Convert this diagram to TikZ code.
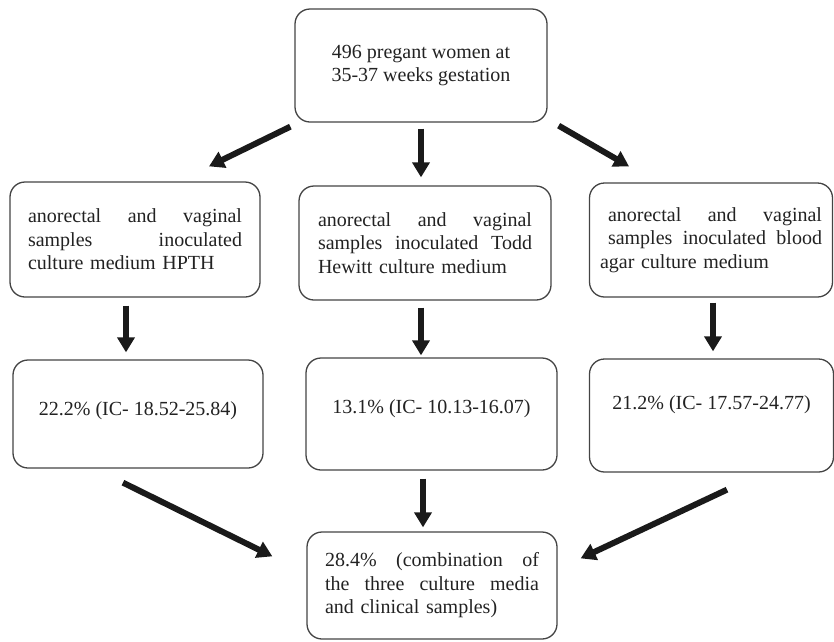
\documentclass[tikz,border=0pt]{standalone}
\usepackage{fontspec}
\setmainfont{Liberation Serif}
\usetikzlibrary{arrows.meta,calc}
\definecolor{boxline}{HTML}{444444}
\definecolor{txt}{HTML}{222222}
\definecolor{arr}{HTML}{1A1A1A}
\newcommand{\gap}{\hspace{\fill}}
\newcommand{\up}[2]{\raisebox{#1}[\height][\depth]{#2}}
\begin{document}
\begin{tikzpicture}[x=1pt,y=-1pt,
  box/.style={draw=boxline, line width=1.3pt, rounded corners=15pt, inner sep=0pt,
    text=txt, font=\fontsize{20}{23.5}\selectfont},
  jbox/.style={box, text width=214pt, align=left},
  cbox/.style={box, align=center},
  arrow/.style={draw=arr, line width=6pt, -{Triangle[width=17pt,length=15pt]}}]
\useasboundingbox (0,0) rectangle (834,641);

\node[cbox, minimum width=252pt, minimum height=113pt] (top) at (421,65.5)
  {496 pregant women at\\35-37 weeks gestation};

\node[jbox, minimum width=250pt, minimum height=115pt] (a1) at (135,239.5)
  {anorectal\gap and\gap vaginal\\samples\gap inoculated\\culture medium HPTH};
\node[jbox, minimum width=252pt, minimum height=114pt] (a2) at (425,243)
  {anorectal\gap and\gap vaginal\\samples\gap inoculated\gap Todd\\Hewitt culture medium};
\node[jbox, text width=222pt, minimum width=243pt, minimum height=114pt] (a3) at (711,240)
  {\leftskip=8pt anorectal\gap and\gap vaginal\\samples\gap inoculated\gap blood\\agar culture medium};

\node[cbox, minimum width=250pt, minimum height=108pt] (b1) at (138,414)
  {\up{3pt}{22.2\% (IC- 18.52-25.84)}};
\node[cbox, minimum width=251pt, minimum height=112pt] (b2) at (431.5,414)
  {\up{5pt}{13.1\% (IC- 10.13-16.07)}};
\node[cbox, minimum width=244pt, minimum height=113pt] (b3) at (711.5,415.5)
  {\up{11pt}{21.2\% (IC- 17.57-24.77)}};

\node[jbox, minimum width=250pt, minimum height=107pt] (c) at (432,585.5)
  {28.4\%\gap (combination\gap of\\the\gap three\gap culture\gap media\\and clinical samples)};

\draw[arrow] ($(top.south west)+(-4,4)$) -- ($(a1.north)+(74,-15)$);
\draw[arrow] ($(top.south)+(0,6)$) -- ($(top.south |- a2.north)+(0,-8)$);
\draw[arrow] ($(top.south east)+(11,3)$) -- ($(a3.north)+(-82,-16)$);

\draw[arrow] ($(a1.south)+(-9,8)$) -- ($(b1.north)+(-12,-7)$);
\draw[arrow] ($(a2.south)+(-4,7)$) -- ($(b2.north)+(-10.5,-2)$);
\draw[arrow] ($(a3.south)+(2,5)$) -- ($(b3.north)+(1.5,-7)$);

\draw[arrow] ($(b1.south)+(-15,14)$) -- ($(c.north west)+(-34,25)$);
\draw[arrow] ($(b2.south)+(-8.5,8)$) -- ($(c.north)+(-9,-4)$);
\draw[arrow] ($(b3.south)+(15.5,17)$) -- ($(c.north east)+(23,27)$);
\end{tikzpicture}
\end{document}
